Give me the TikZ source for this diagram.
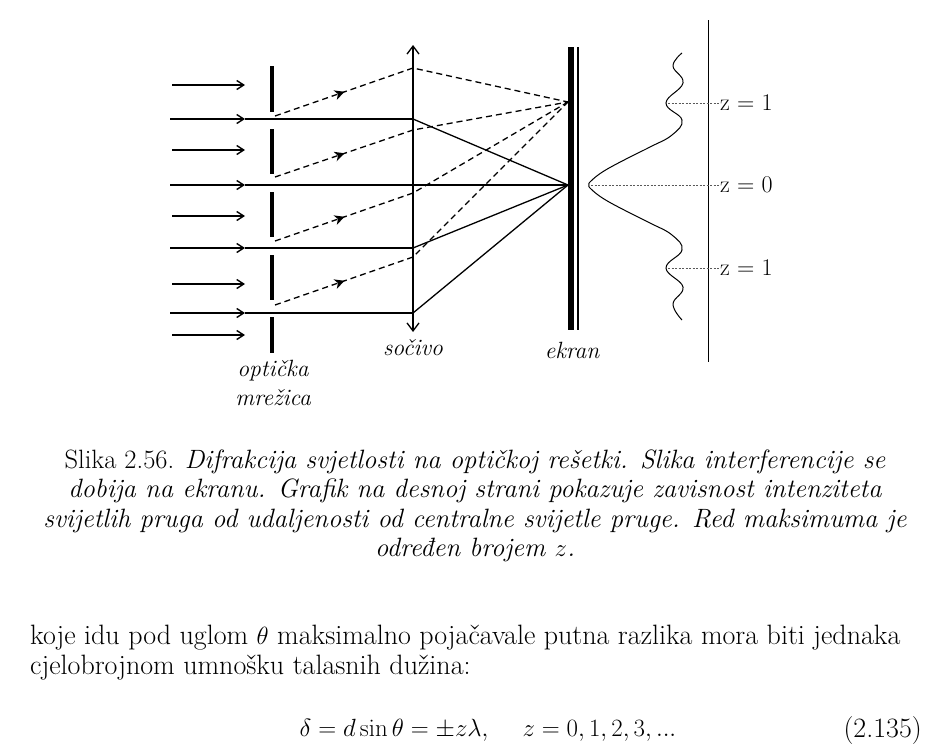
\documentclass[tikz,border=0pt]{standalone}
\usetikzlibrary{arrows.meta}
\begin{document}
\begin{tikzpicture}[x=1pt,y=-1pt,
  inarr/.style={line width=1.4pt,-{Straight Barb[length=7pt,width=9pt]}},
  ray/.style={line width=1.3pt},
  dray/.style={line width=1.3pt,dash pattern=on 6pt off 4pt},
  bar/.style={line width=4.5pt},
  lbl/.style={font=\fontsize{23.5}{27}\selectfont\itshape},
  zl/.style={font=\fontsize{24}{28}\selectfont,anchor=west,inner sep=1pt},
  captxt/.style={font=\fontsize{26.5}{30}\selectfont},
  capit/.style={font=\fontsize{26.5}{30}\selectfont\itshape},
  body/.style={font=\fontsize{28}{32}\selectfont}]
\useasboundingbox (0,0) rectangle (949,753);
% incoming arrows
\foreach \y/\xs in {85/172,150/172,216/172,284/172,335/172}{
  \draw[inarr] (\xs,\y) -- (245,\y);}
\foreach \y in {119,185,248,313}{
  \draw[inarr] (170,\y) -- (245,\y);
  \draw[ray] (245,\y) -- (413,\y);}
% grating
\foreach \a/\b in {66/112,129/174,192/237,255/300,317/353}{\draw[bar] (272,\a) -- (272,\b);}
% lens
\coordinate (L1) at (413,45); \coordinate (L2) at (413,332);
\draw[line width=1.3pt,{Straight Barb[length=8pt,width=12pt]}-{Straight Barb[length=8pt,width=12pt]}] (L1) -- (L2);
% screen
\draw[line width=6pt] (571,47) -- (571,330);
\draw[line width=1.1pt] (578,47) -- (578,330);
\coordinate (F0) at (568,185); \coordinate (F1) at (568,102);
\foreach \y in {119,185,248,313}{\draw[ray] (413,\y) -- (F0);}
% dashed
\foreach \ya/\yb in {116/68,177/130,241/193,305/257}{
  \draw[dray] (275,\ya) -- (413,\yb) -- (F1);
  \path (275,\ya) -- (413,\yb) node[pos=0.47,sloped,inner sep=0] {\tikz\fill[x=1pt,y=1pt] (4,0) -- (-6,5) -- (-3,0) -- (-6,-5) -- cycle;};}
% intensity
\draw[line width=1pt] plot[smooth,tension=0.7] coordinates {
 (682,53) (673,66) (683,83) (666,103) (682,120) (672,135) (650,147) (628,158) (604,171) (591,181) (589,185)
 (591,189) (604,199) (628,212) (650,223) (672,235) (682,250) (666,268) (683,287) (673,304) (682,320)};
\draw (708,20) -- (708,362);
\foreach \y/\xa/\v in {103/668/1,185/591/0,268/668/1}{
  \draw[gray!70!black,dash pattern=on 2pt off 1.5pt,line width=0.7pt] (\xa,\y) -- (720,\y);
  \node[zl] at (719,\y) {z = \v};}
\node[lbl] at (413,348) {sočivo};
\node[lbl] at (572,350) {ekran};
\node[lbl] at (273,371) {optička};
\node[lbl] at (273,398) {mrežica};
% caption
\node[captxt] at (475,462) {Slika 2.56. \itshape Difrakcija svjetlosti na optičkoj rešetki. Slika interferencije se};
\node[capit] at (475,491) {dobija na ekranu. Grafik na desnoj strani pokazuje zavisnost intenziteta};
\node[capit] at (475,521) {svijetlih pruga od udaljenosti od centralne svijetle pruge. Red maksimuma je};
\node[capit] at (475,550) {određen brojem $z$.};
\node[body,anchor=west,inner sep=0] at (30,638) {koje idu pod uglom $\theta$ maksimalno pojačavale putna razlika mora biti jednaka};
\node[body,anchor=west,inner sep=0] at (30,668) {cjelobrojnom umnošku talasnih dužina:};
\node[body,font=\fontsize{30}{34}\selectfont] at (488,730) {$\delta = d\sin\theta = \pm z\lambda,\quad z=0,1,2,3,...$};
\node[body,anchor=east,inner sep=0] at (922,730) {(2.135)};
\end{tikzpicture}
\end{document}
